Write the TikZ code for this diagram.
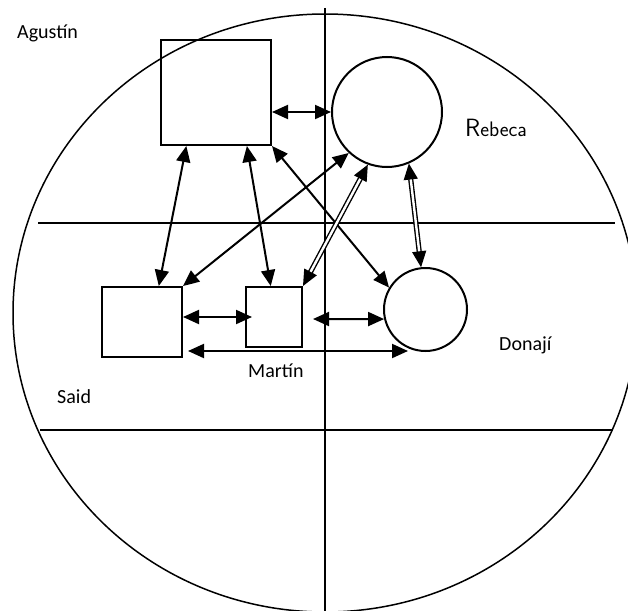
\documentclass[tikz,border=0pt]{standalone}
\usepackage{fontspec}
\newfontfamily\carlito{Carlito}
\usetikzlibrary{arrows.meta}
\begin{document}
\begin{tikzpicture}[x=1pt,y=-1pt,
    person/.style={draw,line width=2pt,inner sep=0pt},
    sq/.style={person,rectangle},
    rd/.style={person,circle},
    plabel/.style={anchor=base west,inner sep=0pt,font=\carlito\fontsize{20}{24}\selectfont},
    tip/.tip={Triangle[length=16pt,width=14pt]},
    link/.style={line width=2pt,tip-tip},
    dlink/.style={line width=1.4pt,double,double distance=2.4pt,tip-tip},
    fieldline/.style={line width=1.5pt}]
  \useasboundingbox (0,0) rectangle (628,610);
  \clip (0,0) rectangle (628,610);
  % field
  \draw[fieldline] (325,313) ellipse [x radius=312,y radius=299];
  \draw[fieldline] (325,8) -- (325,612);
  \draw[fieldline] (38,223) -- (615,223);
  \draw[fieldline] (40,430) -- (613,430);
  % persons
  \node[sq,minimum width=110pt,minimum height=105pt] (agustin) at (216,92.5) {};
  \node[rd,minimum size=110pt] (rebeca) at (387,112) {};
  \node[sq,minimum width=80pt,minimum height=70pt] (said) at (142,322) {};
  \node[sq,minimum width=56pt,minimum height=60pt] (martin) at (274,317) {};
  \node[rd,minimum size=83pt] (donaji) at (425.5,309.5) {};
  \node[plabel] (agustinlbl) at (17,39) {Agustín};
  \node[anchor=base west,inner sep=0pt,font=\sffamily\fontsize{21}{25}\selectfont] (rebecalbl) at (465,136) {{\fontsize{25}{30}\selectfont R}ebeca};
  \node[plabel] (saidlbl) at (57,403) {Said};
  \node[plabel] (martinlbl) at (248,377) {Martín};
  \node[plabel] (donajilbl) at (499,350) {Donají};
  \coordinate (mr) at (313,319);
  \coordinate (sl) at (188,351);
  \coordinate (dl) at (408,351);
  % links
  \begin{scope}
    \draw[link] (agustin.east |- rebeca.west) -- (rebeca.west);
    \draw[link] (agustin.-119) -- (said.65);
    \draw[link] (agustin.-60) -- (martin.96);
    \draw[link] (agustin.south east) -- (donaji.149);
    \draw[link] (rebeca.-133) -- (said.north east);
    \draw[dlink] (rebeca.-110) -- (martin.north east);
    \draw[dlink] (rebeca.-67) -- (donaji.96);
    \draw[link] (said.east |- martin.west) -- ([xshift=7]martin.west);
    \draw[link] (mr) -- (donaji.-167);
    \draw[link] (sl) -- (dl);
  \end{scope}
\end{tikzpicture}
\end{document}
